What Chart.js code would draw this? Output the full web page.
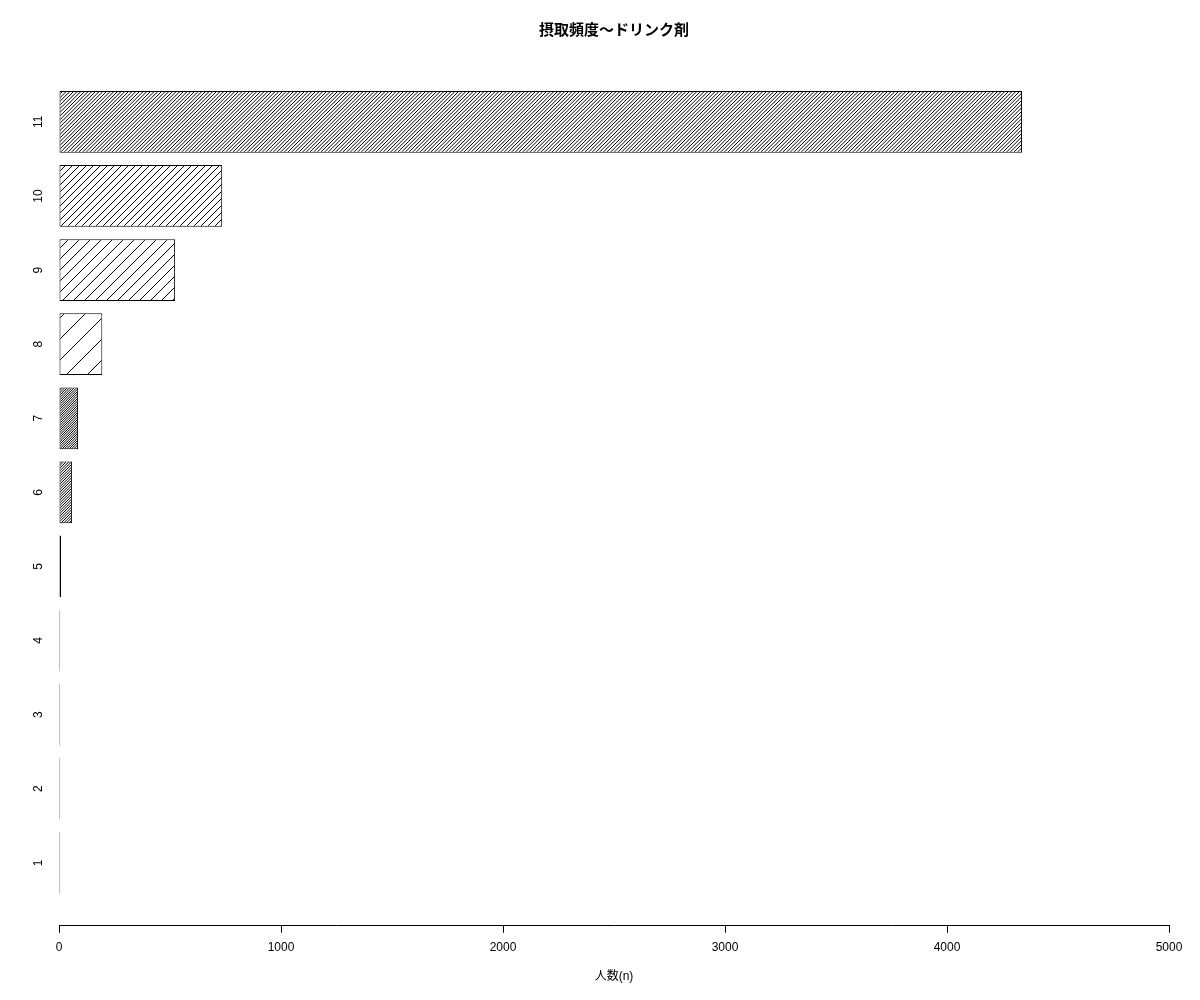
<!DOCTYPE html>
<html>
<head>
<meta charset="utf-8">
<script src="https://cdn.jsdelivr.net/npm/chart.js@4/dist/chart.umd.min.js"></script>
<style>
  body { margin: 0; background: #fff; }
  #wrap { width: 1200px; height: 1000px; }
</style>
</head>
<body>
<div id="wrap"><canvas id="hbar" width="1200" height="1000"></canvas></div>
<script>
// drink frequency categories (1..11) and respondents per category
const categories = ['1', '2', '3', '4', '5', '6', '7', '8', '9', '10', '11'];
const counts = [1, 1, 3, 3, 9, 59, 86, 195, 523, 735, 4338];
const xTicks = [0, 1000, 2000, 3000, 4000, 5000];

const chartTitle = '摂取頻度〜ドリンク剤';
const xTitle = '人数(n)';

// hatch style per bar: tile size and number of "/" lines in it
const hatch = [
  [2, 2], [2, 2], [2, 2], [2, 2], [3, 2],
  [8, 3], [7, 3], [21, 1], [11, 1], [7, 1], [11, 3]
];

function makeHatch(size, lines) {
  const c = document.createElement('canvas');
  c.width = size; c.height = size;
  const g = c.getContext('2d');
  g.fillStyle = '#fff';
  g.fillRect(0, 0, size, size);
  g.strokeStyle = '#000';
  g.lineWidth = 1;
  const step = size / lines;
  for (let k = -lines; k <= 2 * lines; k++) {
    const x0 = k * step;
    g.beginPath();
    g.moveTo(x0, size);
    g.lineTo(x0 + size, 0);
    g.stroke();
  }
  return g.createPattern(c, 'repeat');
}

const ctx = document.getElementById('hbar').getContext('2d');
const fills = hatch.map(h => makeHatch(h[0], h[1]));

const numFont = "'Liberation Sans', Arial, 'Noto Sans CJK JP', sans-serif";

new Chart(ctx, {
  type: 'bar',
  data: {
    datasets: [{
      data: counts.map((v, i) => ({ x: v, y: Number(categories[i]) })),
      backgroundColor: fills,
      borderColor: '#000',
      borderWidth: 1,
      borderSkipped: false,
      minBarLength: 1,
      categoryPercentage: 1,
      barPercentage: 1 / 1.2
    }]
  },
  options: {
    responsive: false,
    animation: false,
    indexAxis: 'y',
    // left 28 + y axis 31 = 59; right spacer axis 31 keeps the title centred on the plot
    layout: { padding: { left: 28, right: 0, top: 0, bottom: 6.4 } },
    plugins: {
      legend: { display: false },
      tooltip: { enabled: false },
      title: {
        display: true,
        text: chartTitle,
        color: '#000',
        font: { family: "'Noto Sans CJK JP', sans-serif", size: 15, weight: 'bold' },
        padding: { top: 20.7, bottom: 20.2 }
      }
    },
    scales: {
      x: {
        type: 'linear',
        min: 0,
        max: 5000,
        afterBuildTicks: scale => { scale.ticks = xTicks.map(v => ({ value: v })); },
        grid: { drawOnChartArea: false, tickLength: 7, color: '#000' },
        border: { display: true, color: '#000', width: 1 },
        ticks: {
          color: '#000',
          padding: 8,
          maxRotation: 0,
          font: { family: numFont, size: 12 },
          callback: v => String(v)
        },
        title: {
          display: true,
          text: xTitle,
          color: '#000',
          font: { family: numFont, size: 12 },
          padding: { top: 6, bottom: 10 }
        }
      },
      y: {
        type: 'linear',
        offset: false,
        min: 0.15,
        max: 11.85,
        afterBuildTicks: scale => { scale.ticks = categories.map(c => ({ value: Number(c) })); },
        afterFit: scale => { scale.width = 31; },
        grid: { display: false, drawTicks: false },
        border: { display: false },
        ticks: {
          color: '#000',
          autoSkip: false,
          minRotation: 90,
          maxRotation: 90,
          crossAlign: 'center',
          padding: 14,
          font: { family: numFont, size: 12 },
          callback: v => String(v)
        }
      },
      spacer: {
        type: 'linear',
        axis: 'y',
        position: 'right',
        display: true,
        afterFit: scale => { scale.width = 31; },
        grid: { display: false, drawTicks: false },
        border: { display: false },
        ticks: { display: false }
      }
    }
  }
});
</script>
</body>
</html>
